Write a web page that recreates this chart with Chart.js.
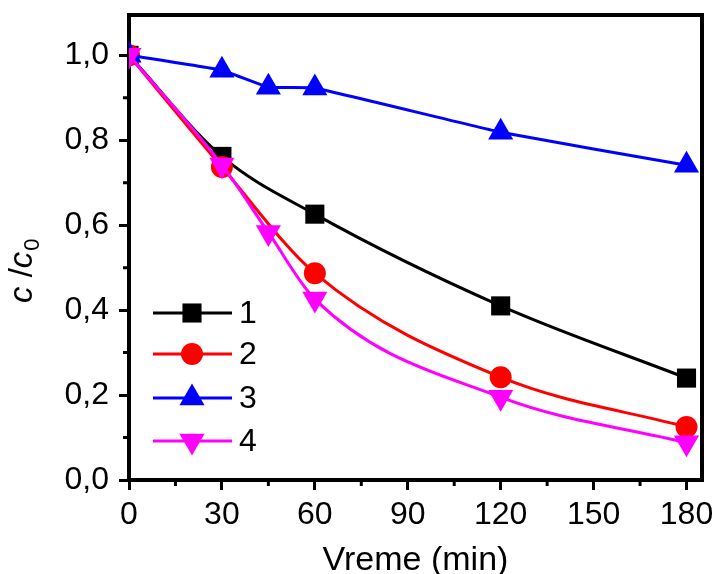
<!DOCTYPE html>
<html>
<head>
<meta charset="utf-8">
<script src="https://cdn.jsdelivr.net/npm/chart.js@4.4.1/dist/chart.umd.min.js"></script>
<style>
  html, body { margin: 0; padding: 0; background: #fff; }
  #wrap { width: 719px; height: 574px; }
</style>
</head>
<body>
<div id="wrap"><canvas id="c"></canvas></div>
<script>
// data
const times1 = [0, 30, 60, 120, 180];
const vals1 = [1.0, 0.762, 0.626, 0.41, 0.24];
const times2 = [0, 30, 60, 120, 180];
const vals2 = [1.0, 0.737, 0.487, 0.242, 0.125];
const times3 = [0, 30, 45, 60, 120, 180];
const vals3 = [1.0, 0.965, 0.925, 0.923, 0.819, 0.741];
const times4 = [0, 30, 45, 60, 120, 180];
const vals4 = [1.0, 0.742, 0.583, 0.426, 0.195, 0.088];
const seriesNames = ["1", "2", "3", "4"];
const xMinor = [15, 45, 75, 105, 135, 165];
const yMinor = [0.1, 0.3, 0.5, 0.7, 0.9];

const FONT = "'Liberation Sans', Arial, sans-serif";

function pts(xs, ys) { return xs.map((x, i) => ({ x: x, y: ys[i] })); }

function mkSet(name, xs, ys, color, style, radius, rot, order, smooth) {
  const ds = {
    label: name,
    data: pts(xs, ys),
    borderColor: color,
    backgroundColor: color,
    borderWidth: 3,
    pointStyle: style,
    pointRadius: radius,
    pointRotation: rot,
    pointBorderWidth: 0,
    order: order
  };
  if (smooth) ds.cubicInterpolationMode = "monotone";
  else ds.tension = 0.1;
  return ds;
}

// axes frame, minor ticks, titles and legend
const extras = {
  id: "extras",
  afterDraw(chart) {
    const ctx = chart.ctx;
    const a = chart.chartArea;
    const xs = chart.scales.x, ys = chart.scales.y;
    ctx.save();
    ctx.strokeStyle = "#000";
    ctx.lineWidth = 4;
    ctx.beginPath();
    ctx.moveTo(a.left - 2, a.top);
    ctx.lineTo(a.right, a.top);
    ctx.lineTo(a.right, a.bottom + 2);
    ctx.stroke();

    ctx.lineWidth = 3;
    ctx.beginPath();
    xMinor.forEach(v => {
      const px = xs.getPixelForValue(v);
      ctx.moveTo(px, a.bottom);
      ctx.lineTo(px, a.bottom + 6);
    });
    yMinor.forEach(v => {
      const py = ys.getPixelForValue(v);
      ctx.moveTo(a.left, py);
      ctx.lineTo(a.left - 6, py);
    });
    ctx.stroke();

    // x title
    ctx.fillStyle = "#000";
    ctx.font = "34px " + FONT;
    ctx.textAlign = "center";
    ctx.textBaseline = "alphabetic";
    ctx.fillText("Vreme (min)", (a.left + a.right) / 2, 570);

    // y title: c /c0
    ctx.translate(32, 303);
    ctx.rotate(-Math.PI / 2);
    ctx.textAlign = "left";
    let x = 0;
    ctx.font = "italic 33px " + FONT;
    ctx.fillText("c", x, 0); x += ctx.measureText("c").width;
    ctx.font = "33px " + FONT;
    ctx.fillText(" /", x, 0); x += ctx.measureText(" /").width;
    ctx.font = "italic 33px " + FONT;
    ctx.fillText("c", x, 0); x += ctx.measureText("c").width + 1;
    ctx.font = "22px " + FONT;
    ctx.fillText("0", x, 7);
    ctx.restore();

    // legend
    ctx.save();
    const rows = [313, 354, 398, 441];
    chart.data.datasets.forEach((ds, i) => {
      const y = rows[i];
      ctx.strokeStyle = ds.borderColor;
      ctx.lineWidth = 3;
      ctx.beginPath();
      ctx.moveTo(153, y);
      ctx.lineTo(232, y);
      ctx.stroke();
      ctx.fillStyle = ds.backgroundColor;
      Chart.helpers.drawPoint(ctx, {
        pointStyle: ds.pointStyle, radius: ds.pointRadius,
        rotation: ds.pointRotation, borderWidth: 0
      }, 192, y);
      ctx.fillStyle = "#000";
      ctx.font = "32px " + FONT;
      ctx.textBaseline = "middle";
      ctx.textAlign = "left";
      ctx.fillText(seriesNames[i], 239, y + 1);
    });
    ctx.restore();
  }
};

new Chart(document.getElementById("c"), {
  type: "line",
  data: {
    datasets: [
      mkSet(seriesNames[0], times1, vals1, "#000000", "rect", 13.5, 0, 4, true),
      mkSet(seriesNames[1], times2, vals2, "#ff0000", "circle", 11, 0, 3, true),
      mkSet(seriesNames[2], times3, vals3, "#0000ff", "triangle", 14.5, 0, 2, false),
      mkSet(seriesNames[3], times4, vals4, "#ff00ff", "triangle", 14.5, 180, 1, true)
    ]
  },
  options: {
    responsive: true,
    maintainAspectRatio: false,
    animation: false,
    layout: { padding: { top: 15, right: 17, left: 0, bottom: 0 } },
    plugins: { legend: { display: false }, tooltip: { enabled: false } },
    scales: {
      x: {
        type: "linear",
        min: 0,
        max: 185,
        afterFit(s) { s.height = 94; s.paddingLeft = 0; s.paddingRight = 0; },
        ticks: {
          stepSize: 30,
          includeBounds: false,
          color: "#000",
          font: { family: FONT, size: 32 },
          padding: 6,
          maxRotation: 0
        },
        grid: { drawOnChartArea: false, color: "#000", tickLength: 10, lineWidth: 3 },
        border: { color: "#000", width: 4 }
      },
      y: {
        min: 0,
        max: 1.095,
        afterFit(s) { s.width = 129; s.paddingTop = 0; s.paddingBottom = 0; },
        ticks: {
          stepSize: 0.2,
          includeBounds: false,
          color: "#000",
          font: { family: FONT, size: 32 },
          padding: 10,
          callback: v => v.toFixed(1).replace(".", ",")
        },
        grid: { drawOnChartArea: false, color: "#000", tickLength: 10, lineWidth: 3 },
        border: { color: "#000", width: 4 }
      }
    }
  },
  plugins: [extras]
});
</script>
</body>
</html>
